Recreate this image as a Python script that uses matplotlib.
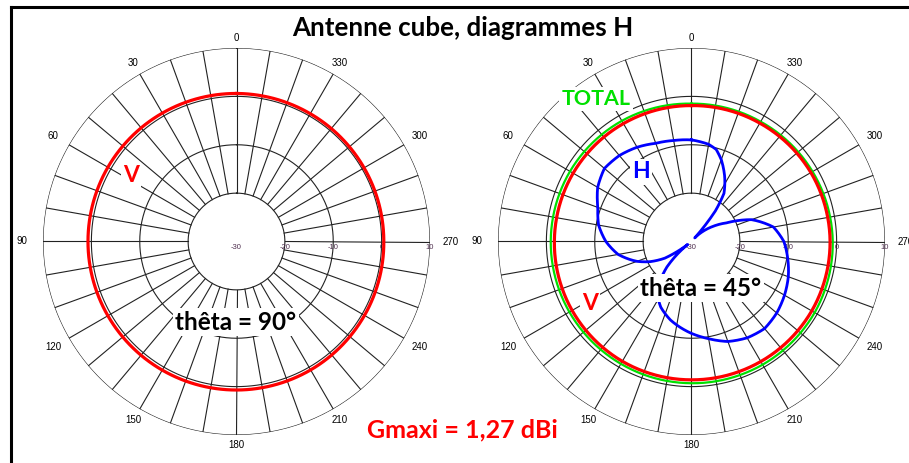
import numpy as np
import matplotlib
matplotlib.use("Agg")
import matplotlib.pyplot as plt
from matplotlib.lines import Line2D

# Gain values in dB, azimuth angles in degrees (counter-clockwise from top)
v_angles = [0, 30, 60, 90, 120, 150, 180, 210, 240, 270, 300, 330]
v_theta90 = [0.6, 0.65, 0.7, 0.7, 0.7, 0.7, 0.7, 0.65, 0.55, 0.45, 0.45, 0.5]
v_theta45 = [-1.9, -1.85, -1.75, -1.65, -1.5, -1.4, -1.4, -1.35, -1.3, -1.35, -1.5, -1.75]
total_theta45 = [-1.5, -1.2, -1.0, -0.9, -0.85, -0.8, -0.7, -0.6, -0.6, -0.8, -1.1, -1.4]

h_angles = [0, 10, 20, 30, 40, 50, 60, 70, 80, 90, 100, 110, 116, 122, 128,
            132, 136, 145, 155, 165, 180, 190, 200, 210, 220, 230, 240, 250,
            260, 270, 280, 290, 298, 305, 312, 318, 322, 326, 333, 340, 345, 350]
h_theta45 = [-9.0, -8.8, -8.4, -7.5, -6.8, -6.5, -7.6, -9.4, -10.5, -12.3, -14.6,
             -18.0, -20.5, -23.5, -29.0, -25.9, -22.7, -17.5, -15.0, -13.2, -11.0,
             -9.6, -8.0, -7.0, -6.5, -7.0, -7.8, -8.7, -9.8, -10.9, -12.8, -16.8,
             -21.8, -24.5, -27.0, -29.0, -22.0, -18.0, -14.9, -12.0, -10.3, -9.6]

rings = [-20, -10, 0, 10]
r_labels = [-30, -20, -10, 0, 10]
RMIN, RMAX = -30, 10
PX_PER_DB = 4.8375

TXT = dict(family="Lato", weight="bold")


def pattern(ax, angles, values, **kw):
    # close the curve and draw it with fine angular steps so that
    # each segment follows an arc instead of a chord
    a = np.append(angles, angles[0] + 360)
    v = np.append(values, values[0])
    fine = np.linspace(0, 360, 721)
    ax.plot(np.radians(fine), np.interp(fine, a, v), **kw)


def polar_grid(ax):
    ax.set_theta_zero_location("N")
    ax.set_theta_direction(1)
    ax.set_rlim(RMIN, RMAX)
    ax.grid(False)
    ax.set_xticks([])
    ax.set_yticks([])
    ax.spines["polar"].set_visible(False)

    t = np.linspace(0, 2 * np.pi, 361)
    for r in rings:
        ax.plot(t, np.full_like(t, r), color="#222222", lw=0.8, zorder=1)
    for a in range(0, 360, 10):
        ax.plot([np.radians(a)] * 2, [rings[0], RMAX], color="#222222", lw=0.8, zorder=1)

    # azimuth labels every 30 degrees, just outside the outer ring
    for a in range(0, 360, 30):
        rpx = 203.5 + 11 * np.sin(np.radians(a)) ** 2
        ax.text(np.radians(a), rpx / PX_PER_DB + RMIN, str(a), ha="center", va="center",
                fontsize=7, family="Liberation Sans", clip_on=False)

    # dB scale along the 270 direction
    for r in r_labels:
        ax.annotate(str(r), xy=(np.radians(270), r), xytext=(0, -4.5),
                    textcoords="offset points", ha="center", va="center",
                    fontsize=5.5, color="#503050", family="Liberation Sans")


fig = plt.figure(figsize=(9.09, 4.63), dpi=100)
W, H = 909, 463

ax1 = fig.add_axes([43 / W, 28 / H, 387 / W, 387 / H], projection="polar")
ax2 = fig.add_axes([498 / W, 28 / H, 387 / W, 387 / H], projection="polar")
polar_grid(ax1)
polar_grid(ax2)

# theta = 90 deg: vertical polarisation only
pattern(ax1, v_angles, v_theta90, color="#ff0000", lw=2.3, zorder=3)

# theta = 45 deg: total, vertical and horizontal components
pattern(ax2, v_angles, total_theta45, color="#00e000", lw=1.6, zorder=3)
pattern(ax2, v_angles, v_theta45, color="#ff0000", lw=2.3, zorder=4)
pattern(ax2, h_angles, h_theta45, color="#0000ff", lw=2.0, zorder=4)

box = dict(fc="white", ec="none", pad=1.5)


def label(x, y, s, color, size):
    fig.text(x / W, 1 - y / H, s, color=color, fontsize=size, ha="center",
             va="center", bbox=box, zorder=10, **TXT)


label(463, 28, "Antenne cube, diagrammes H", "black", 18.7)
label(131, 175, "V", "#ff0000", 16.5)
label(236, 322, "thêta = 90°", "black", 17.5)
label(462, 430, "Gmaxi = 1,27 dBi", "#ff0000", 18)
label(596, 99, "TOTAL", "#00e000", 15.4)
label(641, 172, "H", "#0000ff", 16.5)
label(590, 303, "V", "#ff0000", 16.5)
label(701, 288, "thêta = 45°", "black", 17.5)

# frame along the top and left edges
fig.add_artist(Line2D([11 / W, 1], [1 - 7 / H] * 2, color="black", lw=2.2))
fig.add_artist(Line2D([11 / W] * 2, [0, 1 - 7 / H], color="black", lw=2.2))

fig.savefig("out.png", dpi=100, facecolor="white")
